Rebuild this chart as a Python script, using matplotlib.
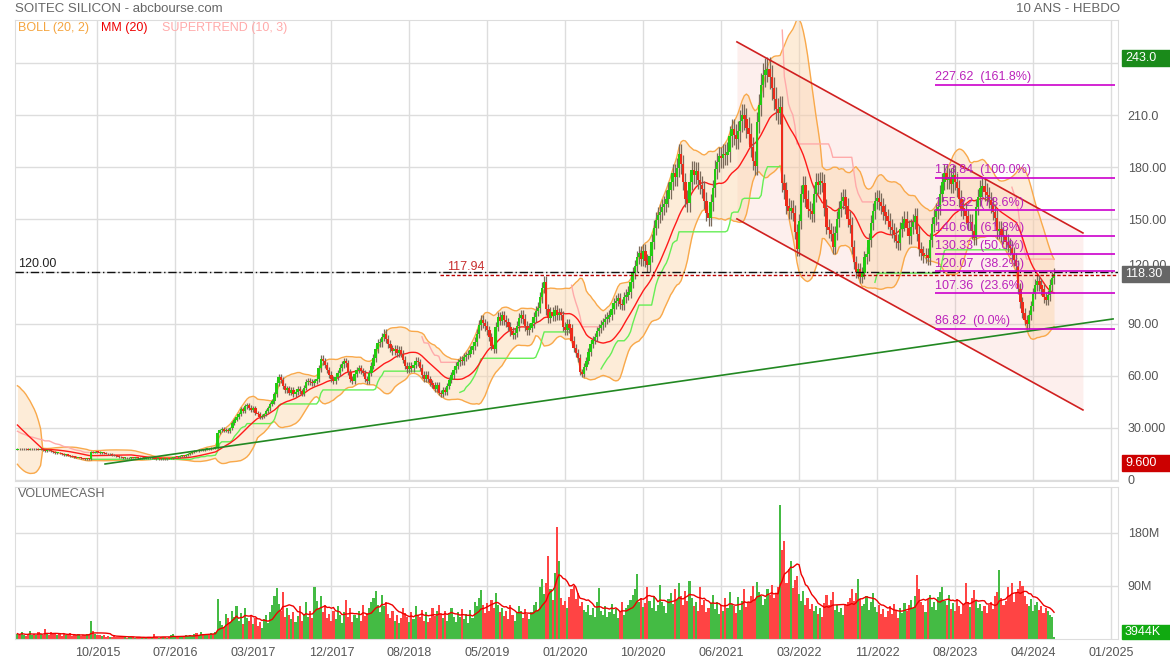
import numpy as np
import pandas as pd
import matplotlib
matplotlib.use('Agg')
import matplotlib.pyplot as plt
from matplotlib.patches import Rectangle
from matplotlib.transforms import blended_transform_factory

plt.rcParams['font.family'] = ['Liberation Sans', 'DejaVu Sans']

# --- data --------------------------------------------------------------------
# weekly closes (EUR), first candle = week of 2015-02-02
closes = [
    17.8, 17.6, 17.7, 17.9, 17.7, 17.5, 17.7, 17.8, 17.6, 17.7,
    17.5, 17.6, 17.2, 16.8, 17.4, 17.0, 16.4, 16.0, 15.6, 15.8,
    15.3, 14.8, 14.4, 14.7, 14.0, 13.7, 13.4, 13.2, 12.9, 13.1,
    12.5, 12.2, 12.0, 12.3, 12.1, 16.1, 15.8, 16.3, 16.0, 15.7,
    15.9, 15.5, 15.2, 14.8, 15.0, 14.4, 14.1, 13.7, 13.2, 13.0,
    12.6, 12.8, 12.4, 12.7, 13.0, 12.8, 13.1, 12.7, 12.5, 12.8,
    12.6, 12.9, 12.7, 12.4, 12.6, 12.3, 12.1, 12.2, 12.0, 12.3,
    12.1, 12.4, 12.2, 12.6, 13.0, 13.4, 13.2, 13.7, 14.0, 13.8,
    14.4, 15.0, 15.5, 16.0, 16.7, 16.4, 17.1, 17.5, 17.2, 17.8,
    18.1, 17.7, 18.4, 18.2, 19.0, 27.2, 28.7, 29.4, 28.2, 29.0,
    28.0, 29.7, 32.8, 34.7, 36.2, 38.2, 40.7, 39.8, 42.4, 43.2,
    41.7, 40.2, 41.4, 38.7, 38.0, 36.4, 37.0, 37.7, 39.7, 41.2,
    43.7, 45.2, 49.2, 55.7, 59.2, 57.7, 54.2, 51.7, 52.7, 50.2,
    51.7, 49.4, 50.7, 52.4, 51.0, 49.7, 53.2, 56.2, 57.2, 56.4,
    56.0, 56.7, 58.2, 64.2, 69.7, 68.2, 66.2, 63.2, 60.7, 58.2,
    57.2, 59.2, 61.7, 64.7, 66.7, 68.2, 67.2, 62.2, 58.2, 56.7,
    61.2, 63.2, 64.2, 62.7, 61.7, 58.2, 57.2, 61.7, 65.7, 70.2,
    75.2, 78.7, 79.2, 82.2, 84.2, 81.2, 78.2, 75.7, 74.2, 75.2,
    73.2, 74.7, 72.7, 69.2, 65.7, 63.7, 65.7, 64.2, 66.2, 68.7,
    67.7, 64.7, 60.7, 58.2, 60.7, 58.2, 55.7, 54.7, 52.2, 54.7,
    50.2, 49.2, 51.7, 50.7, 54.2, 57.7, 60.2, 63.2, 65.7, 67.7,
    69.2, 68.2, 70.7, 71.7, 72.7, 74.7, 77.2, 79.7, 84.2, 89.2,
    92.2, 90.2, 88.7, 86.2, 82.2, 77.2, 75.2, 88.2, 93.7, 91.7,
    94.7, 92.2, 90.7, 88.2, 85.7, 83.7, 84.7, 88.7, 93.2, 95.2,
    92.7, 88.7, 86.2, 87.7, 90.2, 93.7, 97.2, 99.2, 105.2, 110.7,
    114.2, 98.2, 93.2, 96.7, 94.2, 97.7, 95.2, 96.2, 94.7, 88.2,
    86.2, 89.7, 87.2, 80.2, 76.2, 73.2, 70.2, 62.2, 61.2, 65.2,
    68.7, 73.7, 78.2, 80.7, 82.2, 85.7, 87.2, 89.2, 90.7, 92.7,
    93.7, 95.2, 98.7, 101.7, 103.2, 104.7, 101.2, 100.7, 105.2, 106.7,
    108.2, 114.2, 119.2, 123.2, 128.2, 130.7, 127.2, 131.7, 126.2, 123.7,
    129.2, 137.2, 145.2, 149.7, 152.7, 154.2, 157.3, 158.8, 161.8, 166.8,
    171.8, 176.8, 174.3, 179.8, 187.8, 181.8, 171.8, 161.8, 159.3, 171.8,
    178.3, 175.8, 177.8, 172.8, 169.8, 167.3, 160.8, 153.8, 150.8, 159.8,
    167.8, 178.8, 182.8, 186.3, 185.3, 187.8, 186.8, 188.8, 197.8, 201.8,
    198.8, 196.3, 200.8, 206.8, 210.3, 207.8, 202.8, 199.3, 191.8, 183.8,
    180.8, 205.8, 215.8, 227.5, 233.0, 236.0, 236.5, 232.0, 225.5, 219.5,
    213.5, 211.5, 214.5, 170.8, 166.8, 157.8, 154.8, 156.3, 153.8, 142.8,
    132.7, 148.8, 164.8, 169.8, 161.8, 155.8, 154.8, 153.3, 164.8, 171.3,
    169.8, 172.3, 170.8, 156.8, 145.8, 143.7, 141.7, 134.2, 142.2, 150.2,
    155.8, 160.8, 162.8, 157.8, 150.2, 146.7, 134.2, 125.2, 119.7, 121.2,
    116.7, 119.2, 128.2, 130.2, 138.2, 148.2, 154.8, 160.8, 162.3, 160.3,
    157.8, 154.2, 151.7, 149.2, 145.7, 143.7, 141.2, 137.7, 136.2, 144.2,
    147.7, 150.2, 145.2, 140.2, 145.7, 148.7, 152.2, 141.7, 133.2, 130.7,
    128.7, 129.7, 127.7, 138.2, 147.2, 151.2, 154.7, 157.2, 164.8, 171.8,
    176.8, 172.8, 174.3, 170.3, 175.8, 171.8, 167.8, 161.8, 156.8, 154.8,
    151.7, 148.2, 148.7, 143.2, 139.2, 157.2, 162.8, 167.8, 169.3, 165.8,
    163.8, 161.2, 158.2, 154.2, 150.7, 143.2, 144.7, 141.2, 140.2, 137.2,
    135.2, 133.7, 130.2, 126.7, 123.2, 110.2, 102.2, 96.2, 92.2, 89.7,
    95.2, 100.2, 107.2, 112.2, 114.7, 112.2, 109.7, 105.2, 103.7, 106.2,
    112.2, 116.2, 118.3,
]

# weekly traded capital, millions EUR
volumes = [
    9, 6, 12, 7, 5, 8, 14, 6, 9, 7,
    11, 8, 6, 17, 9, 7, 12, 8, 10, 6,
    8, 5, 9, 7, 6, 10, 5, 7, 6, 8,
    5, 7, 6, 9, 8, 31, 14, 9, 6, 7,
    5, 6, 4, 5, 3, 4, 6, 3, 4, 5,
    3, 4, 2, 3, 4, 3, 2, 3, 3, 2,
    3, 2, 4, 3, 2, 9, 3, 2, 3, 4,
    3, 2, 4, 6, 9, 5, 4, 3, 5, 4,
    6, 5, 7, 5, 8, 10, 7, 12, 8, 6,
    9, 7, 10, 8, 12, 68, 30, 24, 20, 42,
    35, 28, 47, 38, 55, 31, 44, 26, 52, 35,
    30, 41, 25, 36, 22, 28, 19, 33, 40, 27,
    45, 58, 72, 86, 60, 48, 79, 37, 52, 41,
    33, 46, 28, 39, 55, 30, 43, 62, 38, 47,
    35, 88, 64, 50, 72, 45, 58, 36, 42, 30,
    48, 33, 55, 40, 27, 46, 66, 38, 52, 29,
    41, 35, 47, 31, 58, 39, 44, 52, 63, 70,
    81, 58, 46, 74, 55, 62, 43, 36, 48, 31,
    40, 27, 35, 52, 44, 38, 29, 46, 33, 55,
    41, 37, 49, 30, 45, 28, 36, 52, 39, 47,
    58, 42, 35, 48, 31, 44, 53, 37, 29, 46,
    38, 51, 33, 42, 27, 49, 36, 62, 55, 70,
    83, 57, 44, 61, 48, 66, 52, 78, 58, 45,
    52, 39, 47, 34, 58, 41, 30, 44, 55, 48,
    36, 50, 42, 33, 46, 57, 62, 49, 88, 102,
    76, 95, 141, 84, 66, 112, 190, 132, 70, 58,
    64, 52, 71, 85, 90, 68, 77, 55, 62, 49,
    45, 58, 41, 53, 37, 62, 86, 48, 40, 55,
    38, 46, 59, 42, 51, 35, 47, 63, 40, 53,
    58, 66, 74, 85, 110, 62, 70, 54, 61, 88,
    65, 52, 73, 48, 57, 92, 63, 55, 44, 68,
    77, 59, 84, 66, 95, 72, 58, 81, 64, 98,
    70, 55, 62, 48, 88, 57, 66, 45, 53, 61,
    74, 50, 63, 42, 58, 47, 69, 52, 80, 60,
    56, 44, 71, 49, 65, 85, 54, 62, 73, 90,
    68, 96, 80, 72, 58, 67, 84, 75, 92, 70,
    78, 88, 226, 150, 166, 95, 118, 132, 87, 99,
    107, 76, 64, 82, 58, 69, 51, 60, 47, 55,
    43, 52, 38, 61, 74, 57, 66, 80, 49, 58,
    45, 53, 41, 57, 62, 70, 85, 64, 77, 102,
    68, 55, 60, 72, 49, 63, 78, 54, 46, 57,
    42, 50, 38, 47, 55, 43, 59, 49, 36, 52,
    44, 61, 48, 57, 66, 53, 72, 109, 84, 63,
    58, 46, 67, 75, 54, 62, 49, 71, 80, 88,
    65, 57, 74, 50, 61, 47, 68, 56, 43, 59,
    95, 62, 54, 70, 83, 66, 52, 60, 48, 55,
    44, 58, 63, 50, 72, 80, 116, 69, 57, 64,
    88, 74, 95, 62, 78, 85, 98, 90, 72, 60,
    55, 68, 47, 58, 63, 49, 56, 44, 52, 47,
    41, 38, 3.944,
]

# closes before the visible window, guessed from where the indicators start
pre_closes = [42, 41, 43, 40, 41, 42, 40, 41, 39, 40,
              41, 40, 42, 18.5, 18, 17.5, 18, 17.6, 17.8, 17.5]

start_date = '2015-02-02'

fib_levels = [227.62, 173.84, 155.22, 140.60, 130.33, 120.07, 107.36, 86.82]
fib_pcts = ['161.8%', '100.0%', '78.6%', '61.8%', '50.0%', '38.2%', '23.6%', '0.0%']

# drawn lines: (week index, price) end points
support = ([41.6, 520.0], [9.2, 92.7])
chan_x = [341.5, 505.7]
chan_top = [252.2, 142.2]
chan_bot = [150.3, 40.3]
level_120 = 120.0
level_res = 117.94
price_max, price_min, last_price = 243.0, 9.6, 118.30

# --- candles and indicators -------------------------------------------------
c_all = np.array(pre_closes + closes, dtype=float)
o_all = np.r_[c_all[0], c_all[:-1]]
wick = 0.03
h_all = np.maximum(o_all, c_all) * (1 + wick)
l_all = np.minimum(o_all, c_all) * (1 - wick)

s = pd.Series(c_all)
mm = s.rolling(20, min_periods=1).mean().values
sd = s.rolling(20, min_periods=1).std(ddof=0).values
bb_up, bb_lo = mm + 2 * sd, mm - 2 * sd

# supertrend (10, 3)
prev_c = np.r_[c_all[0], c_all[:-1]]
tr = np.maximum(h_all - l_all, np.maximum(abs(h_all - prev_c), abs(l_all - prev_c)))
atr = pd.Series(tr).ewm(alpha=1 / 10, adjust=False).mean().values
hl2 = (h_all + l_all) / 2
bu, bl = hl2 + 3 * atr, hl2 - 3 * atr
fu, fl = bu.copy(), bl.copy()
trend = np.ones(len(c_all))
trend[0] = -1
for k in range(1, len(c_all)):
    fu[k] = bu[k] if (bu[k] < fu[k - 1] or c_all[k - 1] > fu[k - 1]) else fu[k - 1]
    fl[k] = bl[k] if (bl[k] > fl[k - 1] or c_all[k - 1] < fl[k - 1]) else fl[k - 1]
    if trend[k - 1] == 1:
        trend[k] = -1 if c_all[k] < fl[k] else 1
    else:
        trend[k] = 1 if c_all[k] > fu[k] else -1
st = np.where(trend == 1, fl, fu)

p = len(pre_closes)
c, o, h, l = c_all[p:], o_all[p:], h_all[p:], l_all[p:]
mm, bb_up, bb_lo, st, trend = mm[p:], bb_up[p:], bb_lo[p:], st[p:], trend[p:]
n = len(c)
x = np.arange(n)
vol = np.array(volumes, dtype=float)
vol_ma = pd.Series(vol).rolling(10, min_periods=1).mean().values
up = c >= o

# --- figure -------------------------------------------------------------------
W, H = 1170, 662
fig = plt.figure(figsize=(W / 100, H / 100), dpi=100)


def px_box(left, top, right, bottom):
    return [left / W, 1 - bottom / H, (right - left) / W, (bottom - top) / H]


ax = fig.add_axes(px_box(15, 20, 1118, 481))
axv = fig.add_axes(px_box(15, 487, 1118, 639), sharex=ax)

grid_c = '#dddddd'
for a in (ax, axv):
    a.set_axisbelow(True)
    a.grid(True, color=grid_c, lw=1)
    for sp in a.spines.values():
        sp.set_color(grid_c)
    a.yaxis.tick_right()
    a.tick_params(axis='both', length=0, labelsize=9, labelcolor='#555555')
    a.tick_params(axis='y', pad=7)

dates = pd.date_range(start_date, periods=n + 60, freq='7D')
ticks = list(range(38, 522, 37))
ax.set_xticks(ticks)
axv.set_xticklabels([dates[t].strftime('%m/%Y') for t in ticks])
ax.tick_params(labelbottom=False)
axv.tick_params(axis='x', pad=6)
ax.set_xlim(-1.14, 522.35)

ax.set_ylim(-0.6, 264.8)
ax.set_yticks([0, 30, 60, 90, 120, 150, 180, 210, 240])
ax.set_yticklabels(['0', '30.000', '60.00', '90.00', '120.00', '150.00', '180.00', '210.0', ''])
# 120.00 sits behind the last-price box, only its top shows
for lab in ax.get_yticklabels():
    if lab.get_text() == '120.00':
        lab.set_va('bottom')
axv.set_ylim(0, 257)
axv.set_yticks([90, 180])
axv.set_yticklabels(['90M', '180M'])

# channel + bollinger fills
ax.fill_between(chan_x, chan_bot, chan_top, color='#f5b0a8', alpha=0.2, lw=0, zorder=1)
ax.fill_between(x, bb_lo, bb_up, color='#fbd5aa', alpha=0.45, lw=0, zorder=1.2)
ax.plot(x, bb_up, color='#f9a94b', lw=1, zorder=2)
ax.plot(x, bb_lo, color='#f9a94b', lw=1, zorder=2)
ax.plot(x, np.where(trend == 1, st, np.nan), color='#66ee55', lw=1, zorder=2)
ax.plot(x, np.where(trend == -1, st, np.nan), color='#ffaaaa', lw=1, zorder=2)
ax.plot(x, mm, color='#ff1a1a', lw=1, zorder=2.5)

# candles
ax.vlines(x, l, h, color='#7a6a5a', lw=0.9, zorder=3)
body = np.maximum(abs(c - o), 0.4)
ax.bar(x, body, bottom=np.minimum(o, c), width=1.15,
       color=np.where(up, '#22cc11', '#ee2a1a'), lw=0, zorder=3.2)

# trend lines
ax.plot(chan_x, chan_top, color='#d02020', lw=1.2, zorder=4)
ax.plot(chan_x, chan_bot, color='#d02020', lw=1.2, zorder=4)
ax.plot(support[0], support[1], color='#228822', lw=1.2, zorder=4)

# horizontal levels
yax = ax.get_yaxis_transform()
ax.axhline(level_120, color='#111111', lw=1, ls=(0, (6, 2, 1, 2)), zorder=4)
ax.text(0.003, level_120 + 1, f'{level_120:.2f}', transform=yax, fontsize=9,
        color='#222222', va='bottom')
ax.hlines(level_res, 200.6, 522.35, colors='#bb0000', lw=1, linestyles=(0, (2.5, 1.5)), zorder=4)
ax.text(204, level_res + 1.2, f'{level_res:.2f}', fontsize=9, color='#c83030', va='bottom')

# fibonacci retracement
for lev, pct in zip(fib_levels, fib_pcts):
    ax.hlines(lev, 435.5, 521, colors='#cc00cc', lw=1.2, zorder=4)
    ax.text(435.5, lev + 1, f'{lev:.2f}  ({pct})', fontsize=9, color='#bb22bb',
            va='bottom', zorder=5)

# volume
axv.bar(x, vol, width=1.0, color=np.where(up, '#44bb44', '#ff4444'), lw=0, zorder=2)
axv.plot(x, vol_ma, color='#ee0000', lw=1, zorder=3)


# right-hand value boxes
def value_box(a, y, label, color, height):
    tr = blended_transform_factory(a.transAxes, a.transData)
    a.add_patch(Rectangle((1.0036, y - height / 2), 0.0435, height, transform=tr,
                          color=color, clip_on=False, zorder=10))
    a.text(1.0063, y, label, transform=tr, fontsize=9, color='white',
           va='center', ha='left', clip_on=False, zorder=11)


value_box(ax, price_max, f'{price_max:.1f}', '#1a8a1a', 9.2)
value_box(ax, last_price, f'{last_price:.2f}', '#666666', 9.2)
value_box(ax, price_min, f'{price_min:.3f}', '#cc0000', 9.2)
value_box(axv, 12, f'{vol[-1] * 1000:.0f}K', '#11aa11', 24)

# header texts
fig.text(15 / W, 1 - 9 / H, 'SOITEC SILICON - abcbourse.com', fontsize=9.5,
         color='#666666', va='center')
fig.text(1120 / W, 1 - 9 / H, '10 ANS - HEBDO', fontsize=9.5, color='#666666',
         va='center', ha='right')
fig.text(18 / W, 1 - 28 / H, 'BOLL (20, 2)', fontsize=9, color='#f5a540', va='center')
fig.text(101 / W, 1 - 28 / H, 'MM (20)', fontsize=9, color='#ee0000', va='center')
fig.text(162 / W, 1 - 28 / H, 'SUPERTREND (10, 3)', fontsize=9, color='#ffaaaa', va='center')
fig.text(18 / W, 1 - 494 / H, 'VOLUMECASH', fontsize=9, color='#666666', va='center')

fig.savefig('out.png', dpi=100)
